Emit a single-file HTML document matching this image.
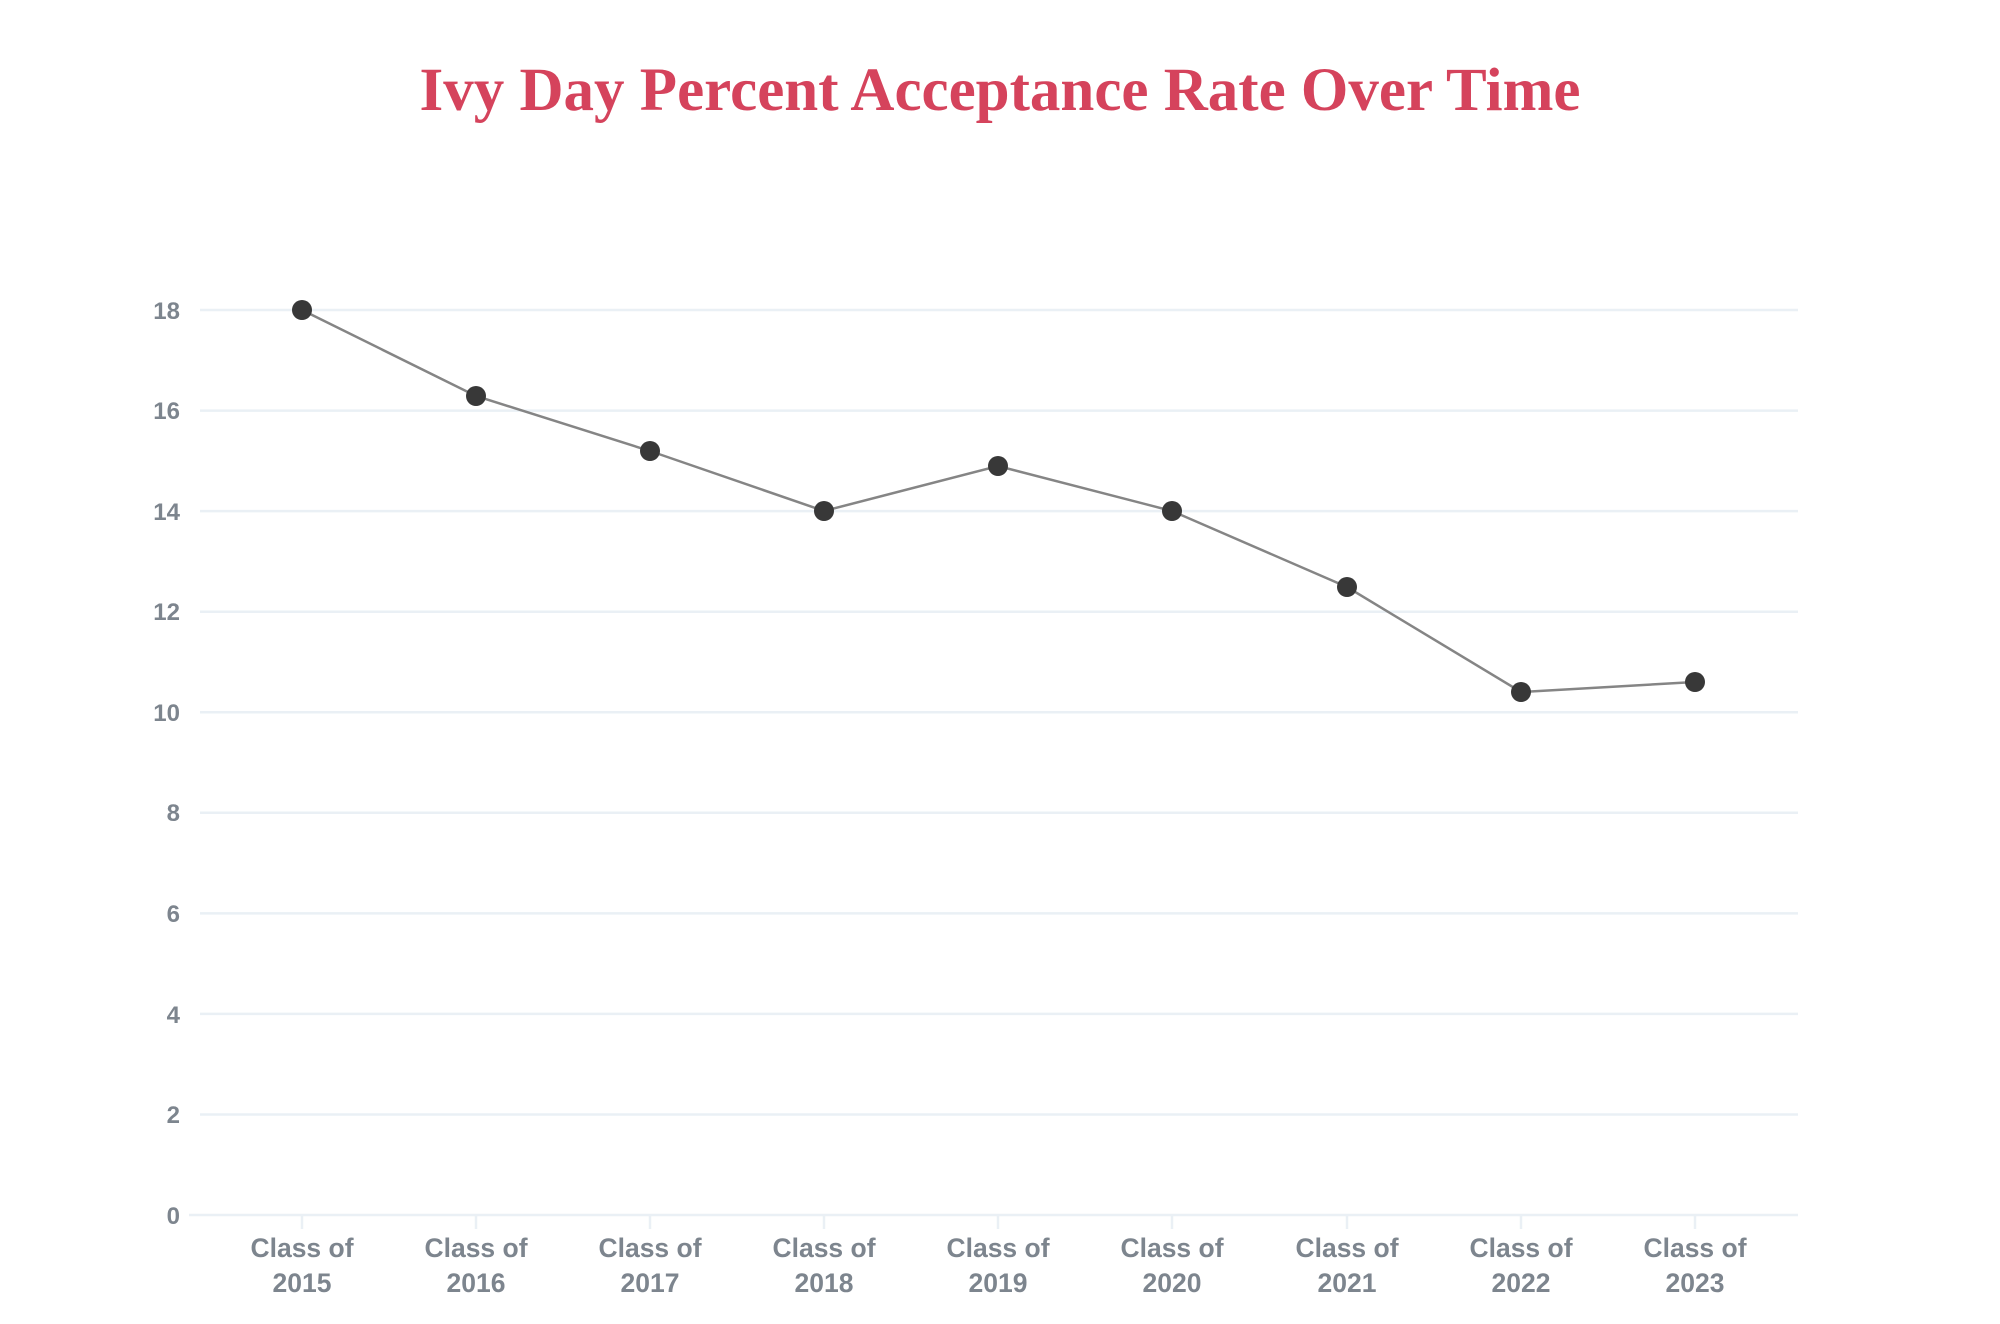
<!DOCTYPE html>
<html><head><meta charset="utf-8"><style>
html,body{margin:0;padding:0;background:#fff;width:2000px;height:1324px;overflow:hidden}
</style></head><body>
<svg width="2000" height="1324" xmlns="http://www.w3.org/2000/svg">
<text x="1000" y="110" text-anchor="middle" font-family="Liberation Serif, serif" font-weight="bold" font-size="61" fill="#d5435c">Ivy Day Percent Acceptance Rate Over Time</text>
<g stroke="#eaf0f5" stroke-width="2.5">
<line x1="200" x2="1798" y1="310" y2="310"/>
<line x1="200" x2="1798" y1="410.6" y2="410.6"/>
<line x1="200" x2="1798" y1="511.1" y2="511.1"/>
<line x1="200" x2="1798" y1="611.7" y2="611.7"/>
<line x1="200" x2="1798" y1="712.2" y2="712.2"/>
<line x1="200" x2="1798" y1="812.8" y2="812.8"/>
<line x1="200" x2="1798" y1="913.4" y2="913.4"/>
<line x1="200" x2="1798" y1="1013.9" y2="1013.9"/>
<line x1="200" x2="1798" y1="1114.5" y2="1114.5"/>
<line x1="189" x2="1798" y1="1215" y2="1215"/>
<line x1="302" x2="302" y1="1215" y2="1229"/>
<line x1="476" x2="476" y1="1215" y2="1229"/>
<line x1="650" x2="650" y1="1215" y2="1229"/>
<line x1="824" x2="824" y1="1215" y2="1229"/>
<line x1="998" x2="998" y1="1215" y2="1229"/>
<line x1="1172" x2="1172" y1="1215" y2="1229"/>
<line x1="1347" x2="1347" y1="1215" y2="1229"/>
<line x1="1521" x2="1521" y1="1215" y2="1229"/>
<line x1="1695" x2="1695" y1="1215" y2="1229"/>
</g>
<g font-family="Liberation Sans, sans-serif" font-weight="bold" font-size="24" fill="#7d858e" text-anchor="end">
<text x="180" y="319">18</text><text x="180" y="419">16</text><text x="180" y="520">14</text>
<text x="180" y="620">12</text><text x="180" y="721">10</text><text x="180" y="821">8</text>
<text x="180" y="922">6</text><text x="180" y="1023">4</text><text x="180" y="1123">2</text>
<text x="180" y="1224">0</text>
</g>
<g font-family="Liberation Sans, sans-serif" font-weight="bold" font-size="26.5" fill="#7d858e" text-anchor="middle">
<text x="302" y="1257">Class of</text><text x="302" y="1292">2015</text>
<text x="476" y="1257">Class of</text><text x="476" y="1292">2016</text>
<text x="650" y="1257">Class of</text><text x="650" y="1292">2017</text>
<text x="824" y="1257">Class of</text><text x="824" y="1292">2018</text>
<text x="998" y="1257">Class of</text><text x="998" y="1292">2019</text>
<text x="1172" y="1257">Class of</text><text x="1172" y="1292">2020</text>
<text x="1347" y="1257">Class of</text><text x="1347" y="1292">2021</text>
<text x="1521" y="1257">Class of</text><text x="1521" y="1292">2022</text>
<text x="1695" y="1257">Class of</text><text x="1695" y="1292">2023</text>
</g>
<polyline fill="none" stroke="#858585" stroke-width="2.5" points="302,310 476,396 650,451 824,511 998,466 1172,511 1347,587 1521,692 1695,682"/>
<g fill="#383838">
<circle cx="302" cy="310" r="10"/><circle cx="476" cy="396" r="10"/><circle cx="650" cy="451" r="10"/>
<circle cx="824" cy="511" r="10"/><circle cx="998" cy="466" r="10"/><circle cx="1172" cy="511" r="10"/>
<circle cx="1347" cy="587" r="10"/><circle cx="1521" cy="692" r="10"/><circle cx="1695" cy="682" r="10"/>
</g>
</svg>
</body></html>
